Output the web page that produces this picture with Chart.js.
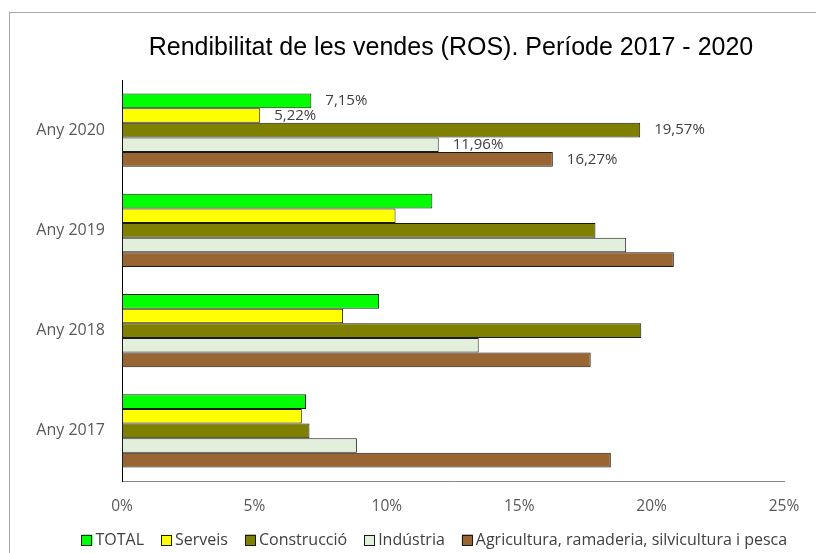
<!DOCTYPE html>
<html>
<head>
<meta charset="utf-8">
<script src="https://cdn.jsdelivr.net/npm/chart.js@4/dist/chart.umd.min.js"></script>
<style>
  body { margin: 0; background: #fff; }
</style>
</head>
<body>
<canvas id="rosGrafica" width="816" height="553"></canvas>
<script>
var anys = ["Any 2020", "Any 2019", "Any 2018", "Any 2017"];
var total = [7.15, 11.72, 9.71, 6.95];
var serveis = [5.22, 10.33, 8.35, 6.79];
var construccio = [19.57, 17.88, 19.61, 7.08];
var industria = [11.96, 19.04, 13.47, 8.87];
var agricultura = [16.27, 20.84, 17.70, 18.46];
var ticksX = [0, 5, 10, 15, 20, 25];
var titol = "Rendibilitat de les vendes (ROS). Període 2017 - 2020";

function serie(nom, valors, color) {
    return {
        label: nom,
        data: valors,
        backgroundColor: color,
        borderColor: "#1a1a1a",
        borderWidth: 1,
        borderSkipped: false,
        categoryPercentage: 0.73,
        barPercentage: 1.0
    };
}

var rosData = {
    labels: anys,
    datasets: [
        serie("TOTAL", total, "#00ff00"),
        serie("Serveis", serveis, "#ffff00"),
        serie("Construcció", construccio, "#808000"),
        serie("Indústria", industria, "#e2efda"),
        serie("Agricultura, ramaderia, silvicultura i pesca", agricultura, "#996633")
    ]
};

// marc, títol, llegenda i etiquetes de 2020
var extres = {
    id: "extres",
    beforeDraw: function (chart) {
        var c = chart.ctx;
        c.save();
        c.strokeStyle = "#a6a6a6";
        c.lineWidth = 1;
        c.strokeRect(9.5, 12.5, 840, 600);
        c.fillStyle = "#000";
        c.font = "25px 'Liberation Sans', Arial, sans-serif";
        c.textAlign = "center";
        c.textBaseline = "middle";
        c.fillText(titol, 451, 48);

        // llegenda
        c.font = "16px 'Open Sans', sans-serif";
        var caixa = 11, buit = 3, sep = 17;
        var amples = chart.data.datasets.map(function (ds) {
            return caixa + buit + c.measureText(ds.label).width;
        });
        var totalAmple = amples.reduce(function (a, b) { return a + b; }, 0) + sep * (amples.length - 1);
        var x = 434.3 - totalAmple / 2;
        var y = 540;
        c.textAlign = "left";
        chart.data.datasets.forEach(function (ds, i) {
            c.fillStyle = ds.backgroundColor;
            c.fillRect(x, y - caixa / 2, caixa, caixa);
            c.strokeStyle = "#1a1a1a";
            c.strokeRect(Math.round(x) + 0.5, Math.round(y - caixa / 2) + 0.5, caixa - 1, caixa - 1);
            c.fillStyle = "#404040";
            c.fillText(ds.label, x + caixa + buit, y);
            x += amples[i] + sep;
        });
        c.restore();
    },
    afterDatasetsDraw: function (chart) {
        var c = chart.ctx;
        c.save();
        c.font = "15px 'Open Sans', sans-serif";
        c.fillStyle = "#404040";
        c.textAlign = "left";
        c.textBaseline = "middle";
        chart.data.datasets.forEach(function (ds, i) {
            var barra = chart.getDatasetMeta(i).data[0];
            var txt = ds.data[0].toFixed(2).replace(".", ",") + "%";
            c.fillText(txt, barra.x + 14, barra.y);
        });
        c.restore();
    }
};

var ctx = document.getElementById("rosGrafica").getContext("2d");
var grafica = new Chart(ctx, {
    type: "bar",
    data: rosData,
    plugins: [extres],
    options: {
        indexAxis: "y",
        responsive: false,
        animation: false,
        layout: { padding: { left: 0, right: 32, top: 80, bottom: 0 } },
        plugins: {
            title: { display: false },
            tooltip: { enabled: false },
            legend: { display: false }
        },
        scales: {
            x: {
                min: 0,
                max: 25,
                afterBuildTicks: function (s) {
                    s.ticks = ticksX.map(function (v) { return { value: v }; });
                },
                afterFit: function (s) { s.height = 72; },
                grid: { display: false, drawTicks: false },
                border: { display: true, color: "#868686", width: 1 },
                ticks: {
                    padding: 16,
                    color: "#595959",
                    font: { family: "'Open Sans', sans-serif", size: 15.5 },
                    callback: function (v) { return v + "%"; }
                }
            },
            y: {
                afterFit: function (s) { s.width = 122; },
                grid: { display: false, drawTicks: false },
                border: { display: true, color: "#000", width: 1 },
                ticks: {
                    padding: 17,
                    color: "#595959",
                    font: { family: "'Open Sans', sans-serif", size: 16 }
                }
            }
        }
    }
});
</script>
</body>
</html>
